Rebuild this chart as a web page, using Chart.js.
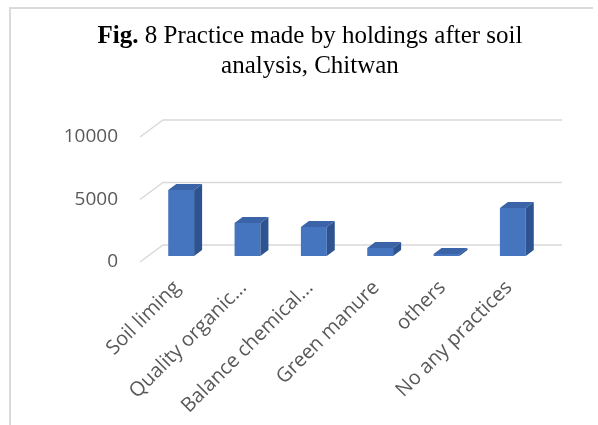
<!DOCTYPE html>
<html>
<head>
<meta charset="utf-8">
<script src="https://cdn.jsdelivr.net/npm/chart.js@4.4.1/dist/chart.umd.min.js"></script>
<style>
  html, body { margin: 0; padding: 0; background: #fff; }
  #wrap { position: relative; width: 598px; height: 425px; overflow: hidden; }
  #frame { position: absolute; left: 9px; top: 7px; width: 582px; height: 440px;
           border-left: 2px solid #dadada; border-top: 2px solid #dadada; }
  #title { position: absolute; left: 10px; width: 600px; top: 20px; text-align: center;
           font-family: "Liberation Serif", "Times New Roman", serif; font-size: 25px;
           line-height: 30px; color: #000; }
  canvas { position: absolute; left: 0; top: 0; }
</style>
</head>
<body>
<div id="wrap">
  <div id="frame"></div>
  <canvas id="chart" width="598" height="425"></canvas>
  <div id="title"><b>Fig.</b> 8 Practice made by holdings after soil<br>analysis, Chitwan</div>
</div>
<script>
// values
const practices = ["Soil liming", "Quality organic...", "Balance chemical...", "Green manure", "others", "No any practices"];
const holdings = [5280, 2640, 2320, 640, 160, 3840];
const yTicks = [0, 5000, 10000];

// 3D depth offsets (front plane / back wall / bar depth)
const FRONT = { dx: -8, dy: 6 };
const BACK = { dx: 15, dy: -11 };
const DEPTH = { dx: 8, dy: -6 };

const wallPlugin = {
  id: "wall",
  beforeDatasetsDraw(chart) {
    const { ctx, chartArea, scales } = chart;
    ctx.save();
    ctx.strokeStyle = "#d9d9d9";
    ctx.lineWidth = 1.5;
    yTicks.forEach((v) => {
      const y = scales.y.getPixelForValue(v);
      ctx.beginPath();
      ctx.moveTo(chartArea.left + FRONT.dx, y + FRONT.dy);
      ctx.lineTo(chartArea.left + BACK.dx, y + BACK.dy);
      ctx.lineTo(chartArea.right + BACK.dx + 1, y + BACK.dy);
      ctx.stroke();
    });
    ctx.restore();
  },
  afterDatasetsDraw(chart) {
    const { ctx } = chart;
    const meta = chart.getDatasetMeta(0);
    ctx.save();
    meta.data.forEach((bar) => {
      const l = bar.x - bar.width / 2;
      const r = bar.x + bar.width / 2;
      const t = bar.y;
      const b = bar.base;
      // top face
      ctx.fillStyle = "#3a63a8";
      ctx.beginPath();
      ctx.moveTo(l, t);
      ctx.lineTo(l + DEPTH.dx, t + DEPTH.dy);
      ctx.lineTo(r + DEPTH.dx, t + DEPTH.dy);
      ctx.lineTo(r, t);
      ctx.closePath();
      ctx.fill();
      // side face
      ctx.fillStyle = "#2d5390";
      ctx.beginPath();
      ctx.moveTo(r, t);
      ctx.lineTo(r + DEPTH.dx, t + DEPTH.dy);
      ctx.lineTo(r + DEPTH.dx, b + DEPTH.dy);
      ctx.lineTo(r, b);
      ctx.closePath();
      ctx.fill();
    });
    ctx.restore();
  },
};

new Chart(document.getElementById("chart"), {
  type: "bar",
  data: {
    labels: practices,
    datasets: [
      {
        data: holdings,
        backgroundColor: "#4675bf",
        borderWidth: 0,
        barPercentage: 0.39,
        categoryPercentage: 1,
      },
    ],
  },
  options: {
    responsive: false,
    animation: false,
    layout: { padding: { left: 0, top: 131, right: 52, bottom: 0 } },
    plugins: { legend: { display: false }, title: { display: false }, tooltip: { enabled: false } },
    scales: {
      x: {
        grid: { display: false, drawTicks: false },
        border: { display: false },
        afterFit: (scale) => { scale.height = 169; },
        ticks: {
          autoSkip: false,
          minRotation: 45,
          maxRotation: 45,
          padding: 20,
          labelOffset: -4,
          color: "#595959",
          font: { family: "Open Sans", size: 20 },
        },
      },
      y: {
        min: 0,
        max: 10000,
        grid: { display: false, drawTicks: false },
        border: { display: false },
        afterFit: (scale) => { scale.width = 148; },
        afterBuildTicks: (scale) => { scale.ticks = yTicks.map((v) => ({ value: v })); },
        ticks: {
          padding: 30,
          labelOffset: 6,
          color: "#595959",
          font: { family: "Open Sans", size: 19 },
          callback: (value) => String(value),
        },
      },
    },
  },
  plugins: [wallPlugin],
});
</script>
</body>
</html>
